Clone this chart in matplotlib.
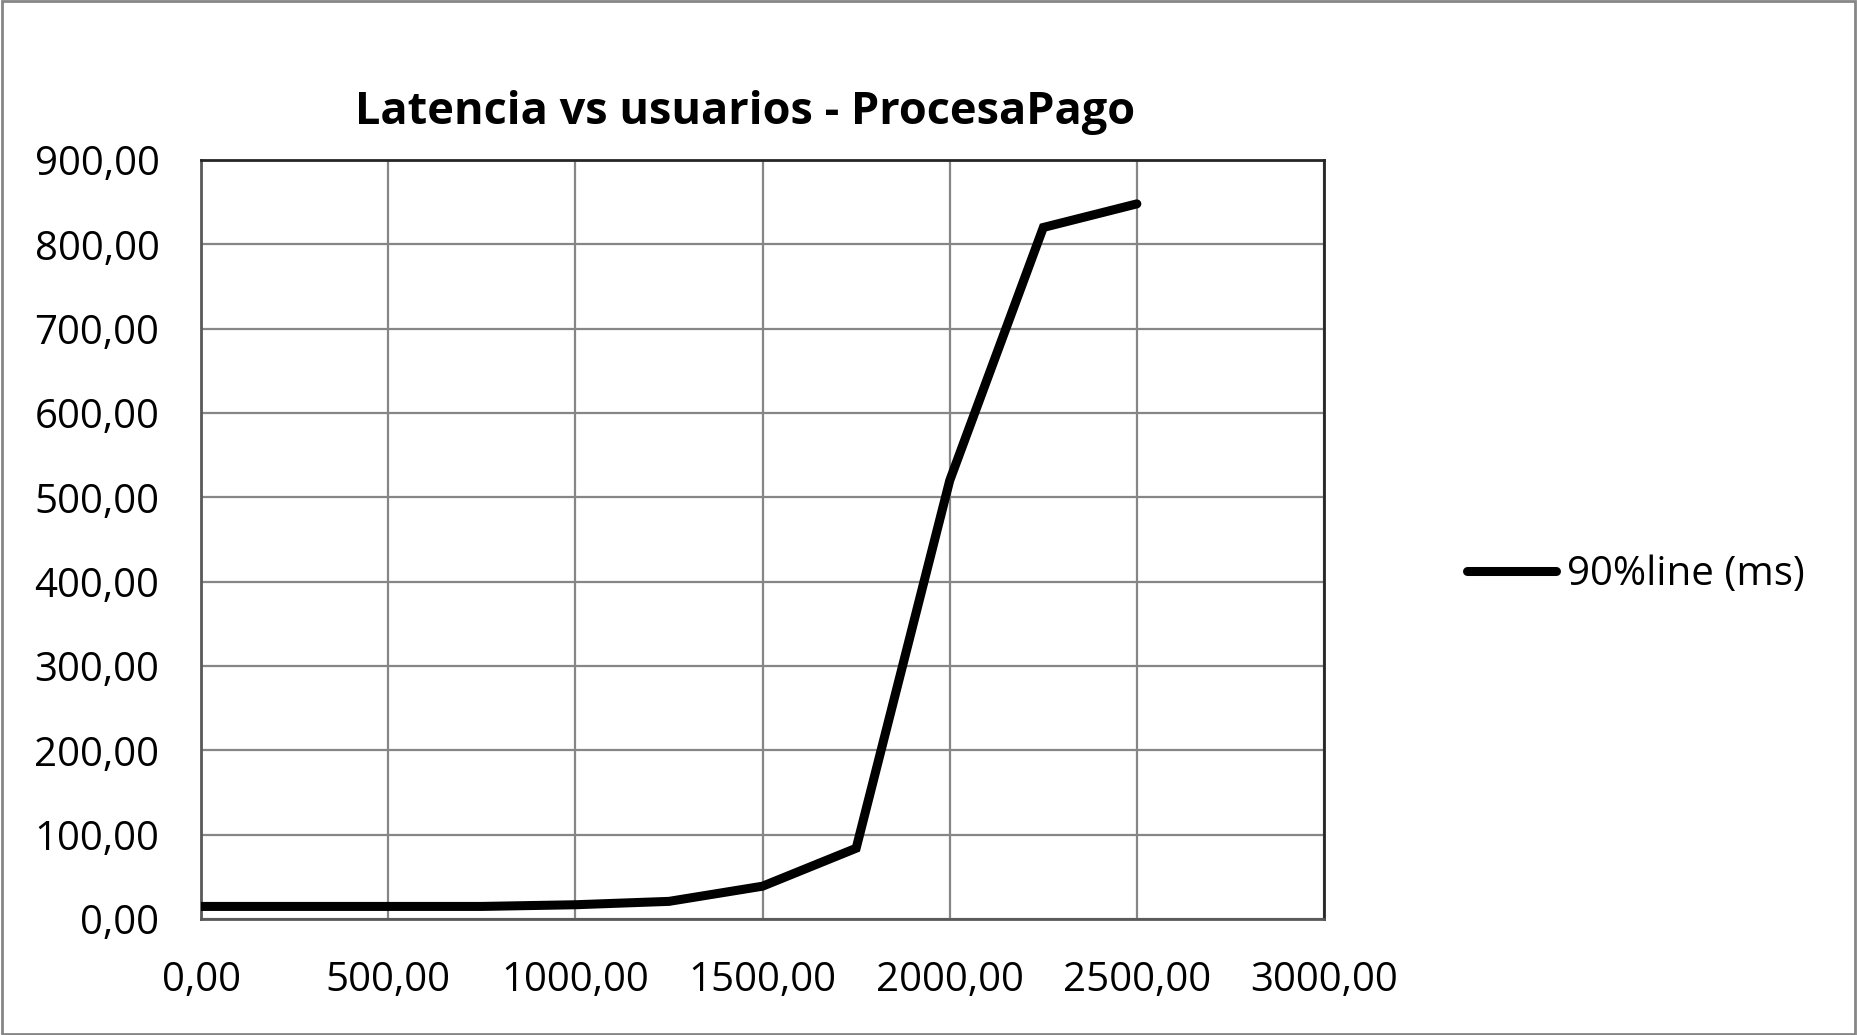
import matplotlib.pyplot as plt
from matplotlib.patches import Rectangle
from matplotlib.ticker import FuncFormatter, MultipleLocator

OUTPUT_PATH = "out.png"

users = [0, 250, 500, 750, 1000, 1250, 1500, 1750, 2000, 2250, 2500]
latency_90 = [15, 15, 15, 15, 17, 21, 39, 84, 520, 820, 848]
series_label = "90%line (ms)"
chart_title = "Latencia vs usuarios - ProcesaPago"

FONT = "Open Sans"


def comma_format(value, _pos):
    return f"{value:.2f}".replace(".", ",")


def main():
    plt.rcParams["font.family"] = [FONT, "DejaVu Sans"]

    fig = plt.figure(figsize=(18.57, 10.35), dpi=100)
    ax = fig.add_axes([0.1083, 0.112, 0.6047, 0.7334])

    ax.plot(users, latency_90, color="black", linewidth=6.5,
            solid_capstyle="round", solid_joinstyle="miter", label=series_label, zorder=3)

    ax.set_xlim(0, 3000)
    ax.set_ylim(0, 900)
    ax.xaxis.set_major_locator(MultipleLocator(500))
    ax.yaxis.set_major_locator(MultipleLocator(100))
    ax.xaxis.set_major_formatter(FuncFormatter(comma_format))
    ax.yaxis.set_major_formatter(FuncFormatter(comma_format))

    ax.grid(True, color="#868686", linewidth=1.6)
    ax.set_axisbelow(True)
    ax.tick_params(length=0, labelsize=29, colors="black")
    ax.tick_params(axis="x", pad=30)
    ax.tick_params(axis="y", pad=30)

    for side in ("top", "right"):
        ax.spines[side].set_color("#262626")
        ax.spines[side].set_linewidth(2.0)
    for side in ("left", "bottom"):
        ax.spines[side].set_color("#595959")
        ax.spines[side].set_linewidth(2.0)

    fig.text(0.401, 0.891, chart_title, ha="center", va="center",
             fontsize=32.5, fontweight="bold")

    fig.legend(loc="center left", bbox_to_anchor=(0.790, 0.445), frameon=False,
               fontsize=29, handlelength=2.2, handletextpad=0.27, borderaxespad=0,
               borderpad=0)

    fig.patches.append(Rectangle((0.001, 0.001), 0.998, 0.998, transform=fig.transFigure,
                                 fill=False, edgecolor="#868686", linewidth=2))

    fig.savefig(OUTPUT_PATH, dpi=100)
    plt.close(fig)


if __name__ == "__main__":
    main()
